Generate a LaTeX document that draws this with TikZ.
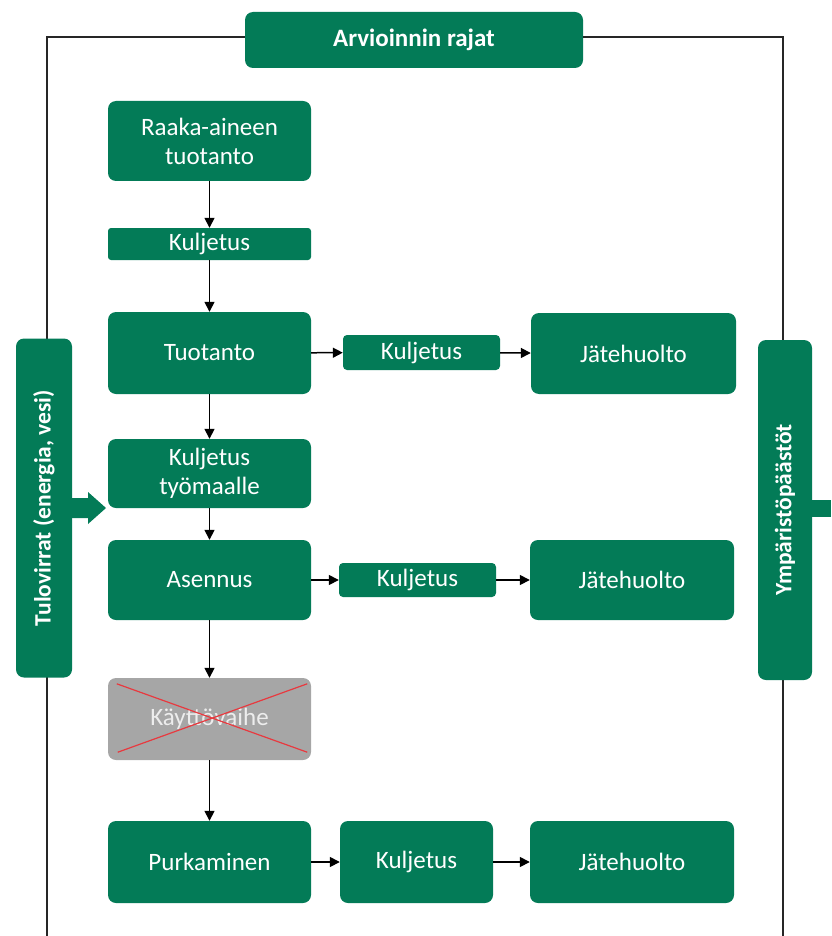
\documentclass[tikz,border=0pt]{standalone}
\usepackage{fontspec}
\setmainfont{Carlito}
\usetikzlibrary{arrows.meta}
\definecolor{grn}{HTML}{037B57}
\definecolor{gry}{HTML}{A6A6A6}
\definecolor{crossred}{HTML}{E8393F}
\tikzset{
  box/.style={fill=grn, rounded corners=8pt, text=white, align=center,
    font=\fontsize{25}{29}\selectfont, inner sep=0pt},
  sidebox/.style={fill=grn, rounded corners=8pt, text=white, inner sep=0pt,
    font=\fontsize{25}{29}\selectfont\bfseries},
  sidetxt/.style={rotate=90, text=white, font=\fontsize{23.5}{28}\selectfont\bfseries},
  conn/.style={line width=1.5pt, -{Triangle[length=10pt,width=10pt]}},
  frame/.style={line width=1.5pt, draw=black!85}
}
\begin{document}
\begin{tikzpicture}[x=1pt,y=-1pt]
\useasboundingbox (0,0) rectangle (831,936);
% header
\node[sidebox, minimum width=338pt, minimum height=56pt] (hdr) at (414,40) {Arvioinnin rajat};
% frame
\coordinate (fl) at (47,37);
\coordinate (flb) at (47,936);
\coordinate (fr) at (783,37);
\coordinate (frb) at (783,936);
\draw[frame] (hdr.west |- fl) -- (fl) -- (flb);
\draw[frame] (hdr.east |- fr) -- (fr) -- (frb);
% side boxes
\node[sidebox, minimum width=56pt, minimum height=339pt] (left) at (44,508) {};
\node[sidetxt] (lefttxt) at (left.center) {Tulovirrat (energia, vesi)};
\node[sidebox, minimum width=54pt, minimum height=340pt] (right) at (785,510) {};
\node[sidetxt] (righttxt) at (right.center) {Ympäristöpäästöt};
% fat arrows
\fill[grn] (72,498) -- (88,498) -- (88,492) -- (106,508) -- (88,524) -- (88,518) -- (72,518) -- cycle;
\fill[grn] (812,500) rectangle (831,517);
% main boxes
\node[box, minimum width=203pt, minimum height=80pt] (raw) at (209.5,141) {Raaka-aineen\\tuotanto};
\node[box, rounded corners=3pt, minimum width=203pt, minimum height=32pt] (k1) at (209.5,244) {Kuljetus};
\node[box, minimum width=203pt, minimum height=82pt] (tuot) at (209.5,353) {Tuotanto};
\node[box, rounded corners=4pt, minimum width=157pt, minimum height=35pt] (k2) at (421.5,352.5) {Kuljetus};
\node[box, minimum width=205pt, minimum height=81pt] (j1) at (633.5,353.5) {Jätehuolto};
\node[box, minimum width=203pt, minimum height=69pt] (kt) at (209.5,473.5) {Kuljetus\\työmaalle};
\node[box, minimum width=203pt, minimum height=80pt] (as) at (209.5,580) {Asennus};
\node[box, rounded corners=4pt, minimum width=157pt, minimum height=34pt] (k3) at (417.5,580) {Kuljetus};
\node[box, minimum width=204pt, minimum height=80pt] (j2) at (632,580) {Jätehuolto};
\node[box, fill=gry, text=black!7, minimum width=203pt, minimum height=82pt] (kv) at (209.5,719) {Käyttövaihe};
\node[box, minimum width=203pt, minimum height=82pt] (pu) at (209.5,862) {Purkaminen};
\node[box, minimum width=153pt, minimum height=82pt] (k4) at (416.5,862) {Kuljetus};
\node[box, minimum width=204pt, minimum height=82pt] (j3) at (632,862) {Jätehuolto};
% red cross
\draw[crossred, line width=1.2pt] ([shift={(9,6)}]kv.north west) -- ([shift={(-4,-8)}]kv.south east);
\draw[crossred, line width=1.2pt] ([shift={(-4,6)}]kv.north east) -- ([shift={(10,-8)}]kv.south west);
% connectors
\draw[conn] (raw) -- (k1);
\draw[conn] (k1) -- (tuot);
\draw[conn] (tuot) -- (kt);
\draw[conn] (kt) -- (as);
\draw[conn] (as) -- (kv);
\draw[conn] (kv) -- (pu);
\draw[conn] (tuot) -- (k2);
\draw[conn] (k2) -- (j1);
\draw[conn] (as) -- (k3);
\draw[conn] (k3) -- (j2);
\draw[conn] (pu) -- (k4);
\draw[conn] (k4) -- (j3);
\end{tikzpicture}
\end{document}
